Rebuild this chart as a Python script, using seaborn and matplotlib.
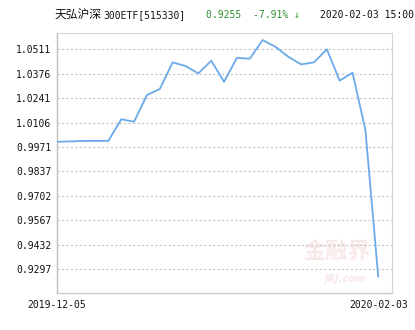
import matplotlib
matplotlib.use("Agg")
import matplotlib.pyplot as plt
import seaborn as sns
import pandas as pd
import numpy as np

# ---- data ----
values = [1.0000, 1.0002, 1.0005, 1.0005, 1.0005, 1.0124, 1.0111, 1.0258,
          1.0291, 1.0438, 1.0418, 1.0377, 1.0447, 1.0331, 1.0463, 1.0458,
          1.0561, 1.0524, 1.0469, 1.0427, 1.0438, 1.0510, 1.0337, 1.0381,
          1.0065, 0.9255]
x_labels = ["2019-12-05", "2020-02-03"]
y_ticks = [0.9297, 0.9432, 0.9567, 0.9702, 0.9837, 0.9971, 1.0106,
           1.0241, 1.0376, 1.0511]
title_cn = "天弘沪深"
title_code = "300ETF[515330]"
price_text = "0.9255  -7.91% ↓"
time_text = "2020-02-03 15:00"

df = pd.DataFrame({"idx": np.arange(len(values)), "value": values})

sns.set_theme(style="white")
plt.rcParams['font.family'] = ['DejaVu Sans Mono', 'Noto Sans CJK SC']

W, H = 415, 330
fig = plt.figure(figsize=(W / 100, H / 100), dpi=100)
ax = fig.add_axes([57 / W, (H - 293) / H, (392 - 57) / W, (293 - 33) / H])

# watermark
ax.text(0.935, 0.115, "金融界", transform=ax.transAxes, ha="right", va="bottom",
        fontsize=16, color="#d05050", alpha=0.13, family=["Noto Sans CJK SC"],
        fontweight="bold", zorder=0)
ax.text(0.80, 0.035, "JRJ.com", transform=ax.transAxes, ha="left", va="bottom",
        fontsize=7, color="#d05050", alpha=0.13, style="italic",
        family=["DejaVu Sans"], fontweight="bold", zorder=0)

sns.lineplot(data=df, x="idx", y="value", ax=ax, color="#6aaaeb",
             linewidth=1.3, zorder=3)

ax.set_xlim(0, 26.07)
ax.set_ylim(0.9166, 1.0600)
ax.set_yticks(y_ticks)
ax.set_yticklabels([f"{v:.4f}" for v in y_ticks])
ax.set_xticks([0, len(values) - 1])
ax.set_xticklabels(x_labels)
ax.set_xlabel("")
ax.set_ylabel("")

ax.tick_params(axis="both", length=0, labelsize=7, colors="#111111")
ax.tick_params(axis="y", pad=4)
ax.tick_params(axis="x", pad=5)

ax.grid(False)
for v in y_ticks:
    ax.axhline(v, color="#c4c4c4", linewidth=0.8, linestyle=(0, (2, 2)), zorder=1)

for side in ["top", "right"]:
    ax.spines[side].set_color("#d6d6d6")
    ax.spines[side].set_linewidth(0.8)
ax.spines["left"].set_color("#bdbdbd")
ax.spines["left"].set_linewidth(1.0)
ax.spines["bottom"].set_color("#c8c8c8")
ax.spines["bottom"].set_linewidth(1.0)

ty = 1 - 15 / H
fig.text(55 / W, ty, title_cn, ha="left", va="center", fontsize=8.5,
         color="#111111", family=["Noto Sans CJK SC"])
fig.text(103 / W, ty, title_code, ha="left", va="center", fontsize=7,
         color="#111111")
fig.text(206 / W, ty, price_text, ha="left", va="center", fontsize=7,
         color="#2f8f2f")
fig.text(414 / W, ty, time_text, ha="right", va="center", fontsize=7,
         color="#111111")

fig.savefig("out.png", dpi=100)
